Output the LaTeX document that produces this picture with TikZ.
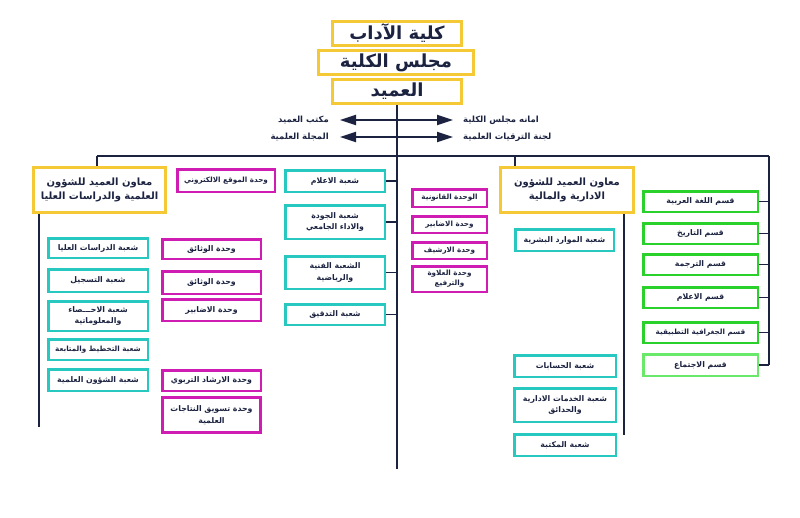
\documentclass[tikz,border=0pt]{standalone}
\usepackage{fontspec}
\newfontfamily\arabicfont[Script=Arabic]{DejaVu Sans}
\TeXXeTstate=1
\usetikzlibrary{arrows.meta}
\definecolor{ylw}{HTML}{F5C935}
\definecolor{cyn}{HTML}{27C8C0}
\definecolor{mag}{HTML}{CF1DB3}
\definecolor{grn}{HTML}{2BD12B}
\definecolor{lgrn}{HTML}{6AE86A}
\definecolor{navy}{HTML}{1C2340}
\newcommand\ar[1]{\beginR #1\endR}
\newcommand\obox[7]{\node[#2, minimum width={(#5-#3-2.5)*1pt}, minimum height={(#6-#4-2.5)*1pt}] (#1) at ({(#3+#5)/2},{(#4+#6)/2}) {#7};}
\tikzset{
  base/.style={draw, fill=white, line width=2.5pt, align=center, inner sep=0pt, text=navy,
    font=\arabicfont\bfseries\fontsize{7.8}{11.5}\selectfont},
  ybox/.style={base, draw=ylw, line width=2.8pt},
  bigt/.style={font=\arabicfont\bfseries\fontsize{18}{20}\selectfont},
  medt/.style={font=\arabicfont\bfseries\fontsize{10}{14}\selectfont},
  smt/.style={font=\arabicfont\bfseries\fontsize{7.2}{10}\selectfont},
  cbox/.style={base, draw=cyn},
  mbox/.style={base, draw=mag},
  gbox/.style={base, draw=grn},
  lgbox/.style={base, draw=lgrn},
  conn/.style={draw=navy, line width=1.6pt},
  harr/.style={draw=navy, line width=2pt, {Triangle[length=16pt,width=10pt]}-{Triangle[length=16pt,width=10pt]}},
  lbl/.style={inner sep=0pt, text=navy, font=\arabicfont\bfseries\fontsize{8.5}{10}\selectfont},
}
\begin{document}
\begin{tikzpicture}[x=1pt,y=-1pt]
\fill[white] (0,0) rectangle (800,517);
\useasboundingbox (0,0) rectangle (800,517);

% top
\obox{t1}{ybox,bigt}{331}{20}{463}{47}{\ar{كلية الآداب}}
\obox{t3}{ybox,bigt}{331}{78}{463}{105}{\ar{العميد}}
\obox{t2}{ybox,bigt}{317}{49}{475}{76}{\ar{مجلس الكلية}}

% side labels and arrows
\node[lbl, anchor=east] (lt1) at (329,120) {\ar{مكتب العميد}};
\node[lbl, anchor=east] (lt2) at (329,137) {\ar{المجلة العلمية}};
\node[lbl, anchor=west] (rt1) at (463,120) {\ar{امانه مجلس الكلية}};
\node[lbl, anchor=west] (rt2) at (463,137) {\ar{لجنة الترقيات العلمية}};

% coordinates
\coordinate (cb) at (397,469);
\coordinate (hl) at (97,156);
\coordinate (hm) at (515,156);
\coordinate (hr) at (769,156);
\coordinate (lb) at (39,427);
\coordinate (ab) at (624,435);

% main lines
\draw[conn] (t3.south) -- (t3.south |- cb);
\draw[conn] (hl) -- (hr);
\draw[harr] ([xshift=11pt]lt1.east) -- ([xshift=-10pt]rt1.west);
\draw[harr] ([xshift=11pt]lt2.east) -- ([xshift=-10pt]rt2.west);

% left branch
\obox{sci}{ybox,medt}{32}{166}{167}{214}{\ar{معاون العميد للشؤون}\\\ar{العلمية والدراسات العليا}}
\obox{web}{mbox,smt}{176}{168}{276}{193}{\ar{وحدة الموقع الالكتروني}}
\obox{L1}{cbox}{47}{237}{149}{259}{\ar{شعبة الدراسات العليا}}
\obox{L2}{cbox}{47}{268}{149}{293}{\ar{شعبة التسجيل}}
\obox{L3}{cbox}{47}{300}{149}{332}{\ar{شعبة الاحـــصاء}\\\ar{والمعلوماتية}}
\obox{L4}{cbox,smt}{47}{338}{149}{361}{\ar{شعبة التخطيط والمتابعة}}
\obox{L5}{cbox}{47}{368}{149}{392}{\ar{شعبة الشؤون العلمية}}
\obox{M1}{mbox}{161}{238}{262}{260}{\ar{وحدة الوثائق}}
\obox{M2}{mbox}{161}{270}{262}{295}{\ar{وحدة الوثائق}}
\obox{M3}{mbox}{161}{298}{262}{322}{\ar{وحدة الاضابير}}
\obox{M4}{mbox}{161}{369}{262}{392}{\ar{وحدة الارشاد التربوي}}
\obox{M5}{mbox,line width=3.4pt}{161}{396}{262}{434}{\ar{وحدة تسويق النتاجات}\\\ar{العلمية}}
\draw[conn] (hl) -- (hl |- sci.north);
\draw[conn] (lb |- sci.south) -- (lb);

% middle
\obox{C1}{cbox}{284}{169}{386}{193}{\ar{شعبة الاعلام}}
\obox{C2}{cbox}{284}{204}{386}{240}{\ar{شعبة الجودة}\\\ar{والاداء الجامعي}}
\obox{C3}{cbox}{284}{255}{386}{290}{\ar{الشعبة الفنية}\\\ar{والرياضية}}
\obox{C4}{cbox}{284}{303}{386}{326}{\ar{شعبة التدقيق}}
\foreach \n in {C1,C2,C3,C4} {\draw[conn] (\n.east) -- (\n.east -| cb);}
\obox{Q1}{mbox,smt}{411}{188}{488}{208}{\ar{الوحدة القانونية}}
\obox{Q2}{mbox,smt}{411}{215}{488}{234}{\ar{وحدة الاضابير}}
\obox{Q3}{mbox,smt}{411}{241}{488}{260}{\ar{وحدة الارشيف}}
\obox{Q4}{mbox,smt}{411}{265}{488}{293}{\ar{وحدة العلاوة}\\\ar{والترفيع}}

% right admin branch
\obox{adm}{ybox,medt}{499}{166}{635}{214}{\ar{معاون العميد للشؤون}\\\ar{الادارية والمالية}}
\draw[conn] (hm) -- (hm |- adm.north);
\draw[conn] (ab |- adm.south) -- (ab);
\obox{R1}{cbox}{514}{228}{615}{252}{\ar{شعبة الموارد البشرية}}
\obox{R2}{cbox}{513}{354}{617}{378}{\ar{شعبة الحسابات}}
\obox{R3}{cbox}{513}{387}{617}{423}{\ar{شعبة الخدمات الادارية}\\\ar{والحدائق}}
\obox{R4}{cbox}{513}{433}{617}{457}{\ar{شعبة المكتبة}}

% departments
\obox{G1}{gbox}{642}{190}{759}{213}{\ar{قسم اللغة العربية}}
\obox{G2}{gbox}{642}{222}{759}{245}{\ar{قسم التاريخ}}
\obox{G3}{gbox}{642}{253}{759}{276}{\ar{قسم الترجمة}}
\obox{G4}{gbox}{642}{286}{759}{309}{\ar{قسم الاعلام}}
\obox{G5}{gbox,smt}{642}{321}{759}{344}{\ar{قسم الجغرافية التطبيقية}}
\obox{G6}{lgbox}{642}{353}{759}{377}{\ar{قسم الاجتماع}}
\draw[conn] (hr) -- (hr |- G6.east);
\foreach \n in {G1,G2,G3,G4,G5,G6} {\draw[conn] (\n.east) -- (\n.east -| hr);}
\end{tikzpicture}
\end{document}
